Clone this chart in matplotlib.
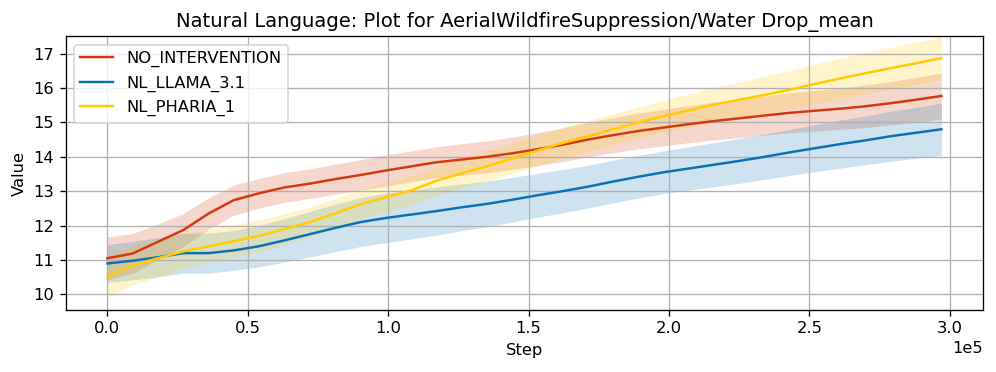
import matplotlib

matplotlib.use("Agg")
import matplotlib.pyplot as plt
import numpy as np

# logged every 9000 steps
steps = np.arange(34) * 9000

no_intervention = [
    11.05, 11.19, 11.53, 11.87, 12.35, 12.74, 12.94, 13.11, 13.22, 13.35,
    13.47, 13.60, 13.72, 13.84, 13.92, 14.00, 14.10, 14.22, 14.35, 14.50,
    14.63, 14.75, 14.85, 14.95, 15.04, 15.12, 15.20, 15.28, 15.34, 15.40,
    15.47, 15.56, 15.66, 15.77,
]
no_intervention_std = [
    0.62, 0.58, 0.52, 0.48, 0.46, 0.44, 0.43, 0.43, 0.43, 0.44,
    0.44, 0.45, 0.45, 0.45, 0.46, 0.46, 0.47, 0.48, 0.49, 0.50,
    0.51, 0.52, 0.53, 0.54, 0.55, 0.56, 0.57, 0.58, 0.59, 0.60,
    0.62, 0.63, 0.65, 0.67,
]

nl_llama = [
    10.90, 10.98, 11.08, 11.20, 11.20, 11.28, 11.40, 11.57, 11.75, 11.93,
    12.10, 12.22, 12.32, 12.42, 12.53, 12.63, 12.75, 12.88, 13.00, 13.13,
    13.28, 13.42, 13.55, 13.66, 13.77, 13.88, 14.00, 14.13, 14.25, 14.37,
    14.48, 14.60, 14.70, 14.80,
]
nl_llama_std = [
    0.55, 0.56, 0.57, 0.58, 0.58, 0.58, 0.60, 0.63, 0.66, 0.69,
    0.71, 0.72, 0.71, 0.70, 0.68, 0.66, 0.65, 0.64, 0.63, 0.62,
    0.62, 0.62, 0.62, 0.63, 0.64, 0.65, 0.66, 0.67, 0.68, 0.70,
    0.71, 0.73, 0.74, 0.76,
]

nl_pharia = [
    10.52, 10.85, 11.05, 11.25, 11.40, 11.55, 11.70, 11.90, 12.10, 12.35,
    12.62, 12.82, 13.02, 13.30, 13.52, 13.72, 13.95, 14.18, 14.40, 14.60,
    14.80, 15.00, 15.18, 15.35, 15.52, 15.66, 15.80, 15.95, 16.12, 16.28,
    16.43, 16.58, 16.72, 16.87,
]
nl_pharia_std = [
    0.60, 0.57, 0.54, 0.51, 0.49, 0.47, 0.46, 0.45, 0.44, 0.43,
    0.43, 0.43, 0.43, 0.43, 0.43, 0.44, 0.44, 0.44, 0.45, 0.45,
    0.45, 0.45, 0.46, 0.48, 0.50, 0.52, 0.54, 0.56, 0.58, 0.59,
    0.60, 0.61, 0.62, 0.63,
]

series = [
    ("NO_INTERVENTION", no_intervention, no_intervention_std, "#d4380d"),
    ("NL_LLAMA_3.1", nl_llama, nl_llama_std, "#0a72b4"),
    ("NL_PHARIA_1", nl_pharia, nl_pharia_std, "#ffcc00"),
]

# the reference was rendered at a higher dpi with default font sizes
fig, ax = plt.subplots(figsize=(996 / 118, 372 / 118), dpi=118)

for name, mean, std, color in series:
    mean = np.asarray(mean)
    std = np.asarray(std)
    ax.plot(steps, mean, color=color, lw=1.5, label=name)
    ax.fill_between(steps, mean - std, mean + std, color=color, alpha=0.2,
                    lw=0)

ax.set_ylim(9.55, 17.5)
ax.ticklabel_format(style="sci", axis="x", scilimits=(0, 0))
ax.set_xlabel("Step")
ax.set_ylabel("Value")
ax.set_title("Natural Language: Plot for AerialWildfireSuppression/Water Drop_mean")
ax.grid(True)
ax.legend(loc="upper left")

fig.subplots_adjust(left=0.066, right=0.987, bottom=0.167, top=0.902)
fig.savefig("out.png")
